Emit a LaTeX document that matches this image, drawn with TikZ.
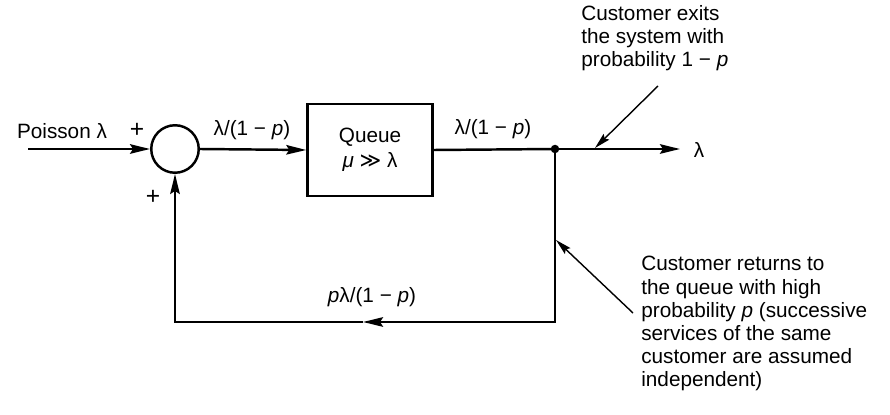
\documentclass[tikz,border=0pt]{standalone}
\usepackage{fontspec}
\setmainfont{Liberation Sans}
\newfontfamily\symfont{DejaVu Sans}
\usetikzlibrary{arrows.meta}

\begin{document}
\begin{tikzpicture}[
    x=0.02cm, y=-0.02cm, % 1 Einheit = 1 Pixel der Vorlage
    >={Stealth[length=0.4cm, width=0.19cm, inset=0.06cm]},
    % --- Globale Node-Stile ---
    base/.style={inner sep=0pt, font=\fontsize{11.8pt}{13.2pt}\selectfont},
    plusSign/.style={inner sep=0pt, font=\fontsize{14pt}{14pt}\selectfont},
    sumNode/.style={draw, line width=1.4pt, circle, minimum size=0.95cm, inner sep=0pt},
    queueBox/.style={base, draw, line width=1.4pt, align=center, minimum width=2.5cm, minimum height=1.85cm},
    dotNode/.style={fill, circle, inner sep=0pt, minimum size=0.17cm},
    noteText/.style={base, align=left, anchor=north west},
    % --- Linienstile ---
    edge_style/.style={->, line width=1.4pt},
    line_style/.style={line width=1.4pt},
    note_edge/.style={-{Stealth[length=0.32cm, width=0.16cm, inset=0.05cm]}, line width=0.8pt}
]
    \useasboundingbox (0,0) rectangle (890,415);

    % ===========================
    % 1. PLATZIERUNG DER KNOTEN
    % ===========================
    \coordinate (In) at (28,149);
    \node[sumNode]  (Sum)   at (175,149) {};
    \node[queueBox] (Queue) at (370,150) {Queue\\[1pt]\textit{μ} {\symfont ≫} λ};
    \node[dotNode]  (Split) at (555,149) {};
    \coordinate (Out) at (680,149);
    \node[base]     (Lam)   at (699,150) {λ};

    \coordinate (BotR) at (555,322);
    \coordinate (BotM) at (363,322);
    \coordinate (BotL) at (175,322);

    % Beschriftungen
    \node[base] (Poisson) at (62,131)  {Poisson λ};
    \node[plusSign] (PlusIn) at (137,130) {+};
    \node[plusSign] (PlusFb) at (153,197) {+};
    \node[base] (RateIn)  at (252,130) {λ/(1 − \textit{p})};
    \node[base] (RateOut) at (493,129) {λ/(1 − \textit{p})};
    \node[base] (RateFb)  at (372,297) {\textit{p}λ/(1 − \textit{p})};

    % Anmerkungen
    \node[noteText] (ExitNote) at (581,5)
        {Customer exits\\the system with\\probability 1 − \textit{p}};
    \node[noteText] (BackNote) at (641,256)
        {Customer returns to\\the queue with high\\probability \textit{p} (successive\\services of the same\\customer are assumed\\independent)};
    \coordinate (ExitTail) at (658,86);
    \coordinate (ExitHead) at (595,148);
    \coordinate (BackTail) at (633,313);
    \coordinate (BackHead) at (556,240);

    % ===========================
    % 2. VERBINDUNGEN
    % ===========================
    \draw[edge_style] (In) -- (Sum.west);
    \draw[edge_style] (Sum.east) -- (Queue.west);
    \draw[line_style] (Queue.east) -- (Split.center);
    \draw[edge_style] (Split.center) -- (Out);

    % Rueckfuehrung mit Pfeil in der Mitte
    \draw[edge_style] (Split.center) -- (BotR) -- (BotM);
    \draw[edge_style] (BotM) -- (BotL) -- (Sum.south);

    % Hinweispfeile
    \draw[note_edge] (ExitTail) -- (ExitHead);
    \draw[note_edge] (BackTail) -- (BackHead);

\end{tikzpicture}
\end{document}
